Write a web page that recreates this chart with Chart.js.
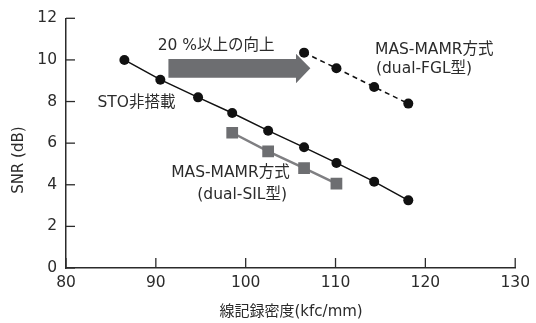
<!DOCTYPE html>
<html>
<head>
<meta charset="utf-8">
<script src="https://cdn.jsdelivr.net/npm/chart.js@4.4.0/dist/chart.umd.min.js"></script>
<style>
  html, body { margin: 0; padding: 0; background: #fff; }
  #wrap { width: 536px; height: 323px; }
</style>
</head>
<body>
<div id="wrap"><canvas id="snrChart" width="536" height="323"></canvas></div>
<script>
// data
const stoX = [86.5, 90.5, 94.7, 98.5, 102.5, 106.5, 110.1, 114.3, 118.1];
const stoY = [10.0, 9.05, 8.2, 7.45, 6.6, 5.8, 5.05, 4.15, 3.25];
const silX = [98.5, 102.5, 106.5, 110.1];
const silY = [6.5, 5.6, 4.8, 4.05];
const fglX = [106.5, 110.1, 114.3, 118.1];
const fglY = [10.35, 9.6, 8.7, 7.9];
const xTicks = [80, 90, 100, 110, 120, 130];
const yTicks = [0, 2, 4, 6, 8, 10, 12];

const FONT = '"DejaVu Sans", "Noto Sans CJK JP", sans-serif';
const TEXT = '#2b2b2b';

function pts(xs, ys) {
  return xs.map((x, i) => ({x: x, y: ys[i]}));
}

// inward ticks, arrow and labels
const extras = {
  id: 'extras',
  afterDraw(chart) {
    const ctx = chart.ctx;
    const xs = chart.scales.x, ys = chart.scales.y;
    const px = v => xs.getPixelForValue(v);
    const py = v => ys.getPixelForValue(v);
    ctx.save();
    ctx.strokeStyle = TEXT;
    ctx.lineWidth = 1.3;
    yTicks.forEach(t => {
      ctx.beginPath();
      ctx.moveTo(xs.left, py(t));
      ctx.lineTo(xs.left + 9, py(t));
      ctx.stroke();
    });
    xTicks.forEach(t => {
      ctx.beginPath();
      ctx.moveTo(px(t), ys.bottom);
      ctx.lineTo(px(t), ys.bottom - 10);
      ctx.stroke();
    });

    // big arrow
    ctx.fillStyle = '#6d6e71';
    ctx.beginPath();
    ctx.moveTo(px(91.4), py(10.05));
    ctx.lineTo(px(105.6), py(10.05));
    ctx.lineTo(px(105.6), py(10.3));
    ctx.lineTo(px(107.2), py(9.6));
    ctx.lineTo(px(105.6), py(8.88));
    ctx.lineTo(px(105.6), py(9.14));
    ctx.lineTo(px(91.4), py(9.14));
    ctx.closePath();
    ctx.fill();

    ctx.fillStyle = TEXT;
    ctx.font = '15.5px ' + FONT;
    ctx.textBaseline = 'middle';
    ctx.textAlign = 'left';
    ctx.fillText('20 %以上の向上', px(90.2), py(10.67));
    ctx.fillText('STO非搭載', px(83.5), py(7.95));
    ctx.fillText('MAS-MAMR方式', px(114.4), py(10.5));
    ctx.fillText('(dual-FGL型)', px(114.5), py(9.55));
    ctx.textAlign = 'right';
    ctx.fillText('MAS-MAMR方式', px(104.9), py(4.55));
    ctx.fillText('(dual-SIL型)', px(104.6), py(3.5));

    // axis titles
    ctx.font = '15px ' + FONT;
    ctx.textAlign = 'center';
    ctx.fillText('線記録密度(kfc/mm)', (xs.left + xs.right) / 2 + 0.5, 312);
    ctx.translate(19, (ys.top + ys.bottom) / 2 + 17);
    ctx.rotate(-Math.PI / 2);
    ctx.fillText('SNR (dB)', 0, 0);
    ctx.restore();
  }
};

new Chart(document.getElementById('snrChart'), {
  type: 'scatter',
  data: {
    datasets: [{
      label: 'STO非搭載',
      data: pts(stoX, stoY),
      showLine: true,
      borderColor: '#111111',
      backgroundColor: '#111111',
      borderWidth: 1.5,
      pointRadius: 5,
      pointBorderWidth: 0
    }, {
      label: 'dual-SIL',
      data: pts(silX, silY),
      showLine: true,
      borderColor: '#7f7f82',
      backgroundColor: '#6d6e71',
      borderWidth: 2.5,
      pointStyle: 'rect',
      pointRadius: 8.3,
      pointBorderWidth: 0
    }, {
      label: 'dual-FGL',
      data: pts(fglX, fglY),
      showLine: true,
      borderColor: '#111111',
      backgroundColor: '#111111',
      borderWidth: 1.5,
      borderDash: [5, 4],
      pointRadius: 5,
      pointBorderWidth: 0
    }]
  },
  options: {
    responsive: false,
    animation: false,
    layout: {padding: {top: 17, right: 18, left: 0, bottom: 0}},
    plugins: {legend: {display: false}, tooltip: {enabled: false}},
    scales: {
      x: {
        type: 'linear',
        min: 80, max: 130,
        afterFit: s => { s.height = 55; },
        afterBuildTicks: s => { s.ticks = xTicks.map(v => ({value: v})); },
        grid: {drawOnChartArea: false, drawTicks: false},
        border: {display: true, color: TEXT, width: 1.5},
        ticks: {color: TEXT, font: {family: FONT, size: 15.5}, padding: 6, maxRotation: 0}
      },
      y: {
        min: 0, max: 12,
        afterFit: s => { s.width = 66; },
        afterBuildTicks: s => { s.ticks = yTicks.map(v => ({value: v})); },
        grid: {drawOnChartArea: false, drawTicks: false},
        border: {display: true, color: TEXT, width: 1.5},
        ticks: {color: TEXT, font: {family: FONT, size: 15.5}, padding: 9}
      }
    }
  },
  plugins: [extras]
});
</script>
</body>
</html>
